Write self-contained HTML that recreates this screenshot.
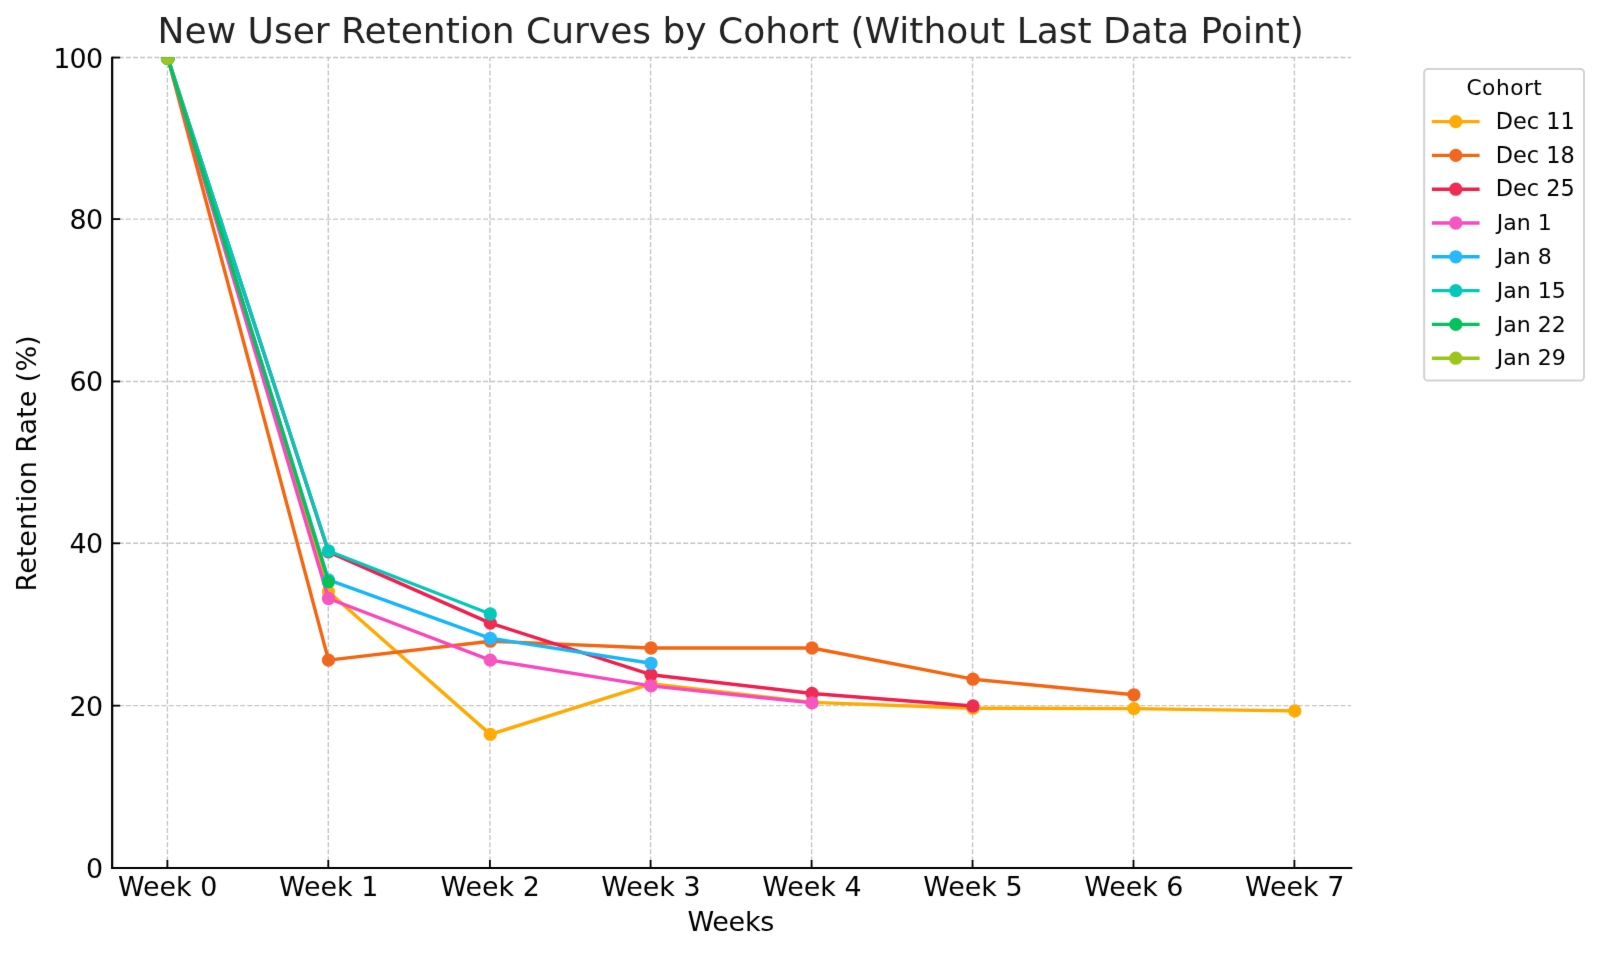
<!DOCTYPE html>
<html lang="en"><head><meta charset="utf-8"><title>New User Retention Curves by Cohort</title>
<style>
html,body{margin:0;padding:0;background:#fff;}
body{width:1600px;height:954px;overflow:hidden;}
svg{display:block;}
#wrap{width:1600px;height:954px;}
text{font-family:"DejaVu Sans","Liberation Sans",sans-serif;}
</style></head><body>
<div id="wrap"><svg width="1600" height="954" viewBox="0 0 1600 954">
<defs><filter id="soft" filterUnits="userSpaceOnUse" x="0" y="0" width="1600" height="954" color-interpolation-filters="sRGB"><feConvolveMatrix order="3" kernelMatrix="0.00490 0.06020 0.00490 0.06020 0.73960 0.06020 0.00490 0.06020 0.00490" divisor="1" edgeMode="duplicate" preserveAlpha="false"/></filter></defs>
<g filter="url(#soft)">
<rect width="1600" height="954" fill="#ffffff"/>
<defs><clipPath id="ax"><rect x="112.15" y="57.5" width="1239.05" height="810.5"/></clipPath></defs>

<g stroke="#c5c5c5" stroke-width="1.4" stroke-dasharray="4.95,2.195" stroke-dashoffset="0.6" fill="none">
<line x1="167.40" y1="868.00" x2="167.40" y2="57.50"/>
<line x1="328.30" y1="868.00" x2="328.30" y2="57.50"/>
<line x1="489.90" y1="868.00" x2="489.90" y2="57.50"/>
<line x1="650.60" y1="868.00" x2="650.60" y2="57.50"/>
<line x1="811.60" y1="868.00" x2="811.60" y2="57.50"/>
<line x1="972.55" y1="868.00" x2="972.55" y2="57.50"/>
<line x1="1133.50" y1="868.00" x2="1133.50" y2="57.50"/>
<line x1="1294.40" y1="868.00" x2="1294.40" y2="57.50"/>
<line x1="112.15" y1="868.00" x2="1351.20" y2="868.00"/>
<line x1="112.15" y1="705.65" x2="1351.20" y2="705.65"/>
<line x1="112.15" y1="543.30" x2="1351.20" y2="543.30"/>
<line x1="112.15" y1="381.45" x2="1351.20" y2="381.45"/>
<line x1="112.15" y1="219.10" x2="1351.20" y2="219.10"/>
<line x1="112.15" y1="57.55" x2="1351.20" y2="57.55"/>
</g>
<g clip-path="url(#ax)">
<polyline points="167.80,58.00 328.50,591.80 490.30,734.40 651.00,683.80 812.00,702.40 972.95,708.20 1133.90,708.60 1294.80,710.90" fill="none" stroke="#ffaa00" stroke-width="3.4" stroke-linejoin="round" stroke-linecap="butt"/>
<circle cx="167.80" cy="58.00" r="6.9" fill="#ffab03"/>
<circle cx="328.50" cy="591.80" r="6.65" fill="#ffab03"/>
<circle cx="490.30" cy="734.40" r="6.65" fill="#ffab03"/>
<circle cx="651.00" cy="683.80" r="6.65" fill="#ffab03"/>
<circle cx="812.00" cy="702.40" r="6.65" fill="#ffab03"/>
<circle cx="972.95" cy="708.20" r="6.65" fill="#ffab03"/>
<circle cx="1133.90" cy="708.60" r="6.65" fill="#ffab03"/>
<circle cx="1294.80" cy="710.90" r="6.65" fill="#ffab03"/>
<polyline points="167.80,58.00 328.50,660.10 490.30,641.20 651.00,648.00 812.00,648.00 972.95,679.20 1133.90,694.80" fill="none" stroke="#f5650f" stroke-width="3.4" stroke-linejoin="round" stroke-linecap="butt"/>
<circle cx="167.80" cy="58.00" r="6.9" fill="#f2671f"/>
<circle cx="328.50" cy="660.10" r="6.65" fill="#f2671f"/>
<circle cx="490.30" cy="641.20" r="6.65" fill="#f2671f"/>
<circle cx="651.00" cy="648.00" r="6.65" fill="#f2671f"/>
<circle cx="812.00" cy="648.00" r="6.65" fill="#f2671f"/>
<circle cx="972.95" cy="679.20" r="6.65" fill="#f2671f"/>
<circle cx="1133.90" cy="694.80" r="6.65" fill="#f2671f"/>
<polyline points="167.80,58.00 328.50,551.90 490.30,623.10 651.00,674.70 812.00,693.50 972.95,706.00" fill="none" stroke="#f01f4f" stroke-width="3.4" stroke-linejoin="round" stroke-linecap="butt"/>
<circle cx="167.80" cy="58.00" r="6.9" fill="#f02c52"/>
<circle cx="328.50" cy="551.90" r="6.65" fill="#f02c52"/>
<circle cx="490.30" cy="623.10" r="6.65" fill="#f02c52"/>
<circle cx="651.00" cy="674.70" r="6.65" fill="#f02c52"/>
<circle cx="812.00" cy="693.50" r="6.65" fill="#f02c52"/>
<circle cx="972.95" cy="706.00" r="6.65" fill="#f02c52"/>
<polyline points="167.80,58.00 328.50,598.50 490.30,660.10 651.00,685.90 812.00,702.90" fill="none" stroke="#f848bf" stroke-width="3.4" stroke-linejoin="round" stroke-linecap="butt"/>
<circle cx="167.80" cy="58.00" r="6.9" fill="#f556c0"/>
<circle cx="328.50" cy="598.50" r="6.65" fill="#f556c0"/>
<circle cx="490.30" cy="660.10" r="6.65" fill="#f556c0"/>
<circle cx="651.00" cy="685.90" r="6.65" fill="#f556c0"/>
<circle cx="812.00" cy="702.90" r="6.65" fill="#f556c0"/>
<polyline points="167.80,58.00 328.50,579.90 490.30,638.30 651.00,663.30" fill="none" stroke="#16b6fb" stroke-width="3.4" stroke-linejoin="round" stroke-linecap="butt"/>
<circle cx="167.80" cy="58.00" r="6.9" fill="#28b8fc"/>
<circle cx="328.50" cy="579.90" r="6.65" fill="#28b8fc"/>
<circle cx="490.30" cy="638.30" r="6.65" fill="#28b8fc"/>
<circle cx="651.00" cy="663.30" r="6.65" fill="#28b8fc"/>
<polyline points="167.80,58.00 328.50,551.00 490.30,614.00" fill="none" stroke="#02c8ba" stroke-width="3.4" stroke-linejoin="round" stroke-linecap="butt"/>
<circle cx="167.80" cy="58.00" r="6.9" fill="#06c8ba"/>
<circle cx="328.50" cy="551.00" r="6.65" fill="#06c8ba"/>
<circle cx="490.30" cy="614.00" r="6.65" fill="#06c8ba"/>
<polyline points="167.80,58.00 328.50,581.70" fill="none" stroke="#04c25a" stroke-width="3.4" stroke-linejoin="round" stroke-linecap="butt"/>
<circle cx="167.80" cy="58.00" r="6.9" fill="#04c25b"/>
<circle cx="328.50" cy="581.70" r="6.65" fill="#04c25b"/>
<circle cx="167.80" cy="58.00" r="6.9" fill="#9bc61d"/>
</g>
<g stroke="#000" stroke-width="2.2" fill="none" stroke-linecap="square">
<line x1="112.15" y1="57.90" x2="112.15" y2="868.00"/>
<line x1="112.15" y1="868.00" x2="1351.20" y2="868.00"/>
</g>
<g stroke="#000" stroke-width="1.8" fill="none">
<line x1="167.40" y1="868.00" x2="167.40" y2="860.00"/>
<line x1="328.30" y1="868.00" x2="328.30" y2="860.00"/>
<line x1="489.90" y1="868.00" x2="489.90" y2="860.00"/>
<line x1="650.60" y1="868.00" x2="650.60" y2="860.00"/>
<line x1="811.60" y1="868.00" x2="811.60" y2="860.00"/>
<line x1="972.55" y1="868.00" x2="972.55" y2="860.00"/>
<line x1="1133.50" y1="868.00" x2="1133.50" y2="860.00"/>
<line x1="1294.40" y1="868.00" x2="1294.40" y2="860.00"/>
<line x1="112.15" y1="868.00" x2="120.15" y2="868.00"/>
<line x1="112.15" y1="705.65" x2="120.15" y2="705.65"/>
<line x1="112.15" y1="543.30" x2="120.15" y2="543.30"/>
<line x1="112.15" y1="381.45" x2="120.15" y2="381.45"/>
<line x1="112.15" y1="219.10" x2="120.15" y2="219.10"/>
<line x1="112.15" y1="57.55" x2="120.15" y2="57.55"/>
</g>
<g font-size="26.9" fill="#000">
<text id="xt0" x="167.70" y="896.4" text-anchor="middle">Week 0</text>
<text id="xt1" x="328.60" y="896.4" text-anchor="middle">Week 1</text>
<text id="xt2" x="490.20" y="896.4" text-anchor="middle">Week 2</text>
<text id="xt3" x="650.90" y="896.4" text-anchor="middle">Week 3</text>
<text id="xt4" x="811.90" y="896.4" text-anchor="middle">Week 4</text>
<text id="xt5" x="972.85" y="896.4" text-anchor="middle">Week 5</text>
<text id="xt6" x="1133.80" y="896.4" text-anchor="middle">Week 6</text>
<text id="xt7" x="1294.70" y="896.4" text-anchor="middle">Week 7</text>
<text id="yt0" letter-spacing="-0.7" x="102.4" y="878.00" text-anchor="end">0</text>
<text id="yt20" letter-spacing="-0.7" x="102.4" y="715.65" text-anchor="end">20</text>
<text id="yt40" letter-spacing="-0.7" x="102.4" y="553.30" text-anchor="end">40</text>
<text id="yt60" letter-spacing="-0.7" x="102.4" y="391.45" text-anchor="end">60</text>
<text id="yt80" letter-spacing="-0.7" x="102.4" y="229.10" text-anchor="end">80</text>
<text id="yt100" letter-spacing="-0.7" x="102.4" y="67.55" text-anchor="end">100</text>
</g>
<text id="xl" letter-spacing="-0.28" x="730.75" y="931.3" font-size="27.0" fill="#000" text-anchor="middle">Weeks</text>
<text id="yl" transform="translate(36.4,463.4) rotate(-90)" font-size="27.0" fill="#000" text-anchor="middle">Retention Rate (%)</text>
<text id="title" x="730.75" y="42.9" font-size="36.0" fill="#222222" text-anchor="middle">New User Retention Curves by Cohort (Without Last Data Point)</text>
<rect x="1424.2" y="69" width="159.8" height="311.5" rx="3.6" ry="3.6" fill="#fff" stroke="#d3d3d3" stroke-width="2"/>
<text id="lt" x="1504.4" y="94.9" font-size="21.7" letter-spacing="0.5" fill="#000" text-anchor="middle">Cohort</text>
<line x1="1431.9" y1="121.60" x2="1479.6" y2="121.60" stroke="#ffaa00" stroke-width="3.4"/>
<circle cx="1455.8" cy="121.60" r="6.65" fill="#ffab03"/>
<text id="l0" x="1495.8" y="128.70" font-size="22.4" fill="#000">Dec 11</text>
<line x1="1431.9" y1="155.40" x2="1479.6" y2="155.40" stroke="#f5650f" stroke-width="3.4"/>
<circle cx="1455.8" cy="155.40" r="6.65" fill="#f2671f"/>
<text id="l1" x="1495.8" y="162.50" font-size="22.4" fill="#000">Dec 18</text>
<line x1="1431.9" y1="189.20" x2="1479.6" y2="189.20" stroke="#f01f4f" stroke-width="3.4"/>
<circle cx="1455.8" cy="189.20" r="6.65" fill="#f02c52"/>
<text id="l2" x="1495.8" y="196.30" font-size="22.4" fill="#000">Dec 25</text>
<line x1="1431.9" y1="223.00" x2="1479.6" y2="223.00" stroke="#f848bf" stroke-width="3.4"/>
<circle cx="1455.8" cy="223.00" r="6.65" fill="#f556c0"/>
<text id="l3" x="1496.8" y="230.10" font-size="22.0" fill="#000">Jan 1</text>
<line x1="1431.9" y1="256.80" x2="1479.6" y2="256.80" stroke="#16b6fb" stroke-width="3.4"/>
<circle cx="1455.8" cy="256.80" r="6.65" fill="#28b8fc"/>
<text id="l4" x="1496.8" y="263.90" font-size="22.0" fill="#000">Jan 8</text>
<line x1="1431.9" y1="290.60" x2="1479.6" y2="290.60" stroke="#02c8ba" stroke-width="3.4"/>
<circle cx="1455.8" cy="290.60" r="6.65" fill="#06c8ba"/>
<text id="l5" x="1496.8" y="297.70" font-size="22.0" fill="#000">Jan 15</text>
<line x1="1431.9" y1="324.40" x2="1479.6" y2="324.40" stroke="#04c25a" stroke-width="3.4"/>
<circle cx="1455.8" cy="324.40" r="6.65" fill="#04c25b"/>
<text id="l6" x="1496.8" y="331.50" font-size="22.0" fill="#000">Jan 22</text>
<line x1="1431.9" y1="358.20" x2="1479.6" y2="358.20" stroke="#98c618" stroke-width="3.4"/>
<circle cx="1455.8" cy="358.20" r="6.65" fill="#9bc61d"/>
<text id="l7" x="1496.8" y="365.30" font-size="22.0" fill="#000">Jan 29</text>
</g></svg></div></body></html>
